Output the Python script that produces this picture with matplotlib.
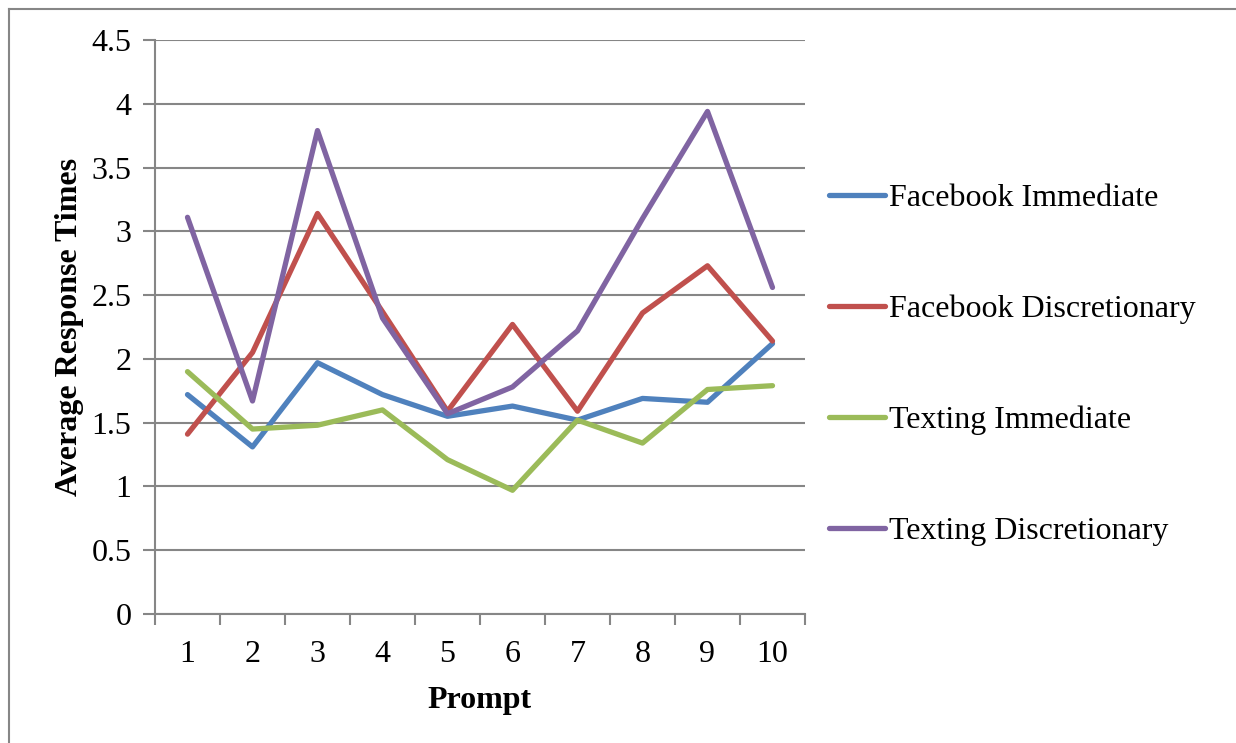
import matplotlib
matplotlib.use("Agg")
import matplotlib.pyplot as plt
from matplotlib.lines import Line2D

prompts = [1, 2, 3, 4, 5, 6, 7, 8, 9, 10]
fb_immediate = [1.72, 1.31, 1.97, 1.72, 1.55, 1.63, 1.52, 1.69, 1.66, 2.12]
fb_discretionary = [1.41, 2.05, 3.14, 2.37, 1.59, 2.27, 1.59, 2.36, 2.73, 2.14]
tx_immediate = [1.90, 1.45, 1.48, 1.60, 1.21, 0.97, 1.52, 1.34, 1.76, 1.79]
tx_discretionary = [3.11, 1.67, 3.79, 2.32, 1.57, 1.78, 2.22, 3.10, 3.94, 2.56]
labels = ["Facebook Immediate", "Facebook Discretionary", "Texting Immediate", "Texting Discretionary"]
colors = ["#4F81BD", "#C0504D", "#9BBB59", "#8064A2"]

plt.rcParams['font.family'] = ['Liberation Serif', 'DejaVu Serif']
fs = 23

fig = plt.figure(figsize=(12.36, 7.43), dpi=100)
ax = fig.add_axes([155/1236, 1 - 614/743, 650/1236, 574/743])

grid = "#868686"
for series, lab, c in zip([fb_immediate, fb_discretionary, tx_immediate, tx_discretionary], labels, colors):
    ax.plot(prompts, series, color=c, lw=3.8, label=lab, solid_capstyle='round', zorder=3)

ax.set_xlim(0.5, 10.5)
ax.set_ylim(0, 4.5)
ax.set_yticks([0, 0.5, 1, 1.5, 2, 2.5, 3, 3.5, 4, 4.5])
ax.set_yticklabels(["0", "0.5", "1", "1.5", "2", "2.5", "3", "3.5", "4", "4.5"])
ax.set_xticks([x + 0.5 for x in range(0, 11)])
ax.set_xticklabels([])
ax.set_xticks(prompts, minor=True)
ax.set_xticklabels([str(p) for p in prompts], minor=True)
ax.tick_params(axis='x', which='minor', length=0, labelsize=fs, pad=19)
ax.tick_params(axis='x', which='major', length=8, color=grid, width=1.5, direction='out')
ax.tick_params(axis='y', length=9, color=grid, width=1.5, labelsize=fs, pad=8)

ax.yaxis.grid(True, color=grid, lw=1.5)
ax.set_axisbelow(True)
for s in ['top', 'right']:
    ax.spines[s].set_visible(False)
for s in ['left', 'bottom']:
    ax.spines[s].set_color(grid)
    ax.spines[s].set_linewidth(1.5)

ax.set_xlabel("Prompt", fontsize=fs, fontweight='bold', labelpad=12)
ax.set_ylabel("Average Response Times", fontsize=fs, fontweight='bold', labelpad=5)

leg = ax.legend(loc='upper left', bbox_to_anchor=(1.018, 0.772), frameon=False, fontsize=fs,
                labelspacing=2.55, handlelength=1.75, handletextpad=0.1, borderaxespad=0)

# chart frame: only top and left edges visible (rest cut off)
fx, fy = 8.5/1236, 1 - 8.5/743
fig.add_artist(Line2D([fx, 1], [fy, fy], transform=fig.transFigure, color=grid, lw=1.5))
fig.add_artist(Line2D([fx, fx], [0, fy], transform=fig.transFigure, color=grid, lw=1.5))

fig.savefig("out.png", dpi=100)
